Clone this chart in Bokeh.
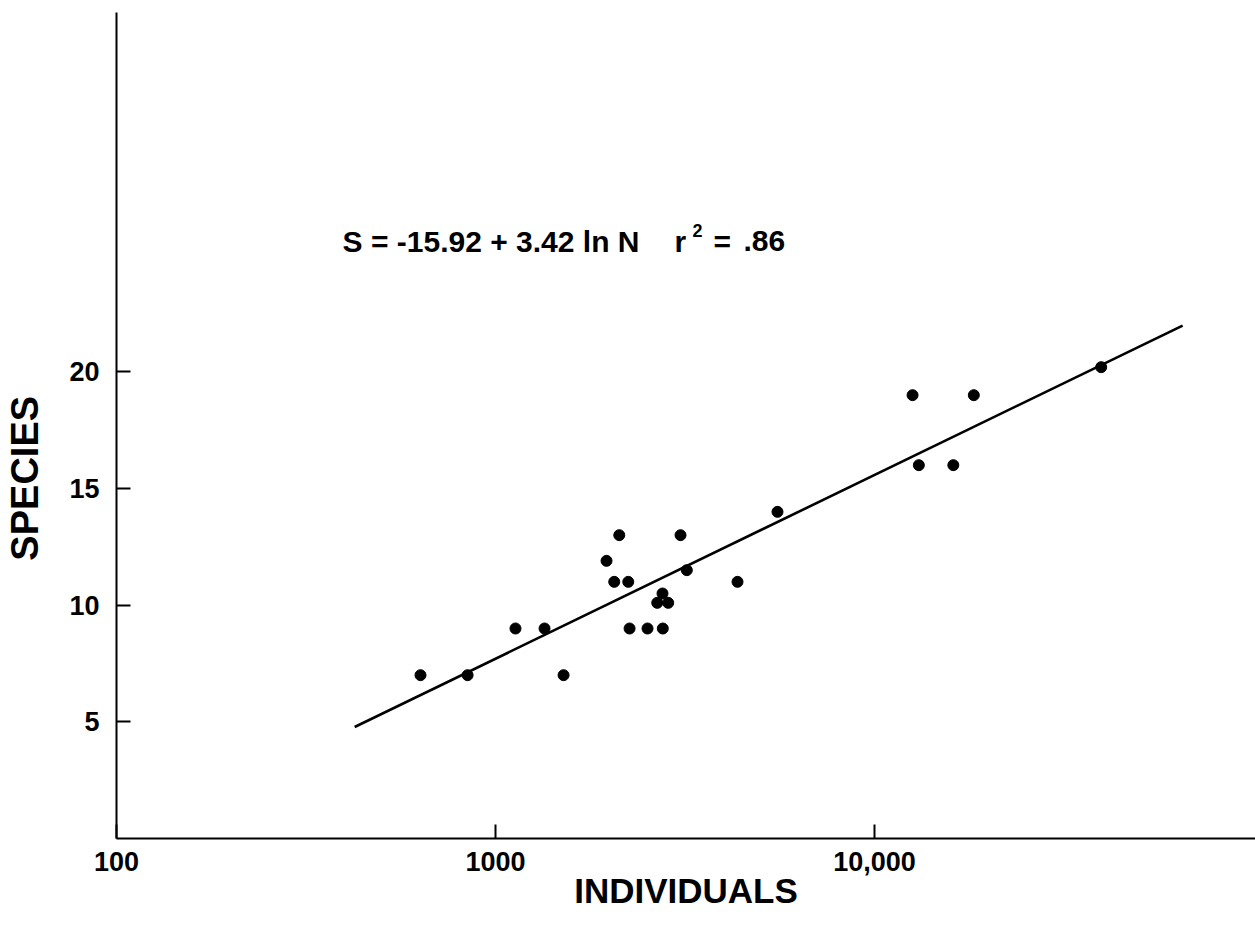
import math
from bokeh.plotting import figure
from bokeh.models import Range1d, FixedTicker, Label
from bokeh.embed import file_html
from bokeh.resources import INLINE

# ---- data ----
individuals = [634, 844, 1129, 1347, 1512, 1963, 2121, 2057, 2240, 2258, 2518, 2763,
               2671, 2855, 2758, 3077, 3197, 4350, 5546, 12600, 13090, 18280, 16140, 39630]
species = [7, 7, 9, 9, 7, 11.9, 13, 11, 11, 9, 9, 9,
           10.1, 10.1, 10.5, 13, 11.5, 11, 14, 19, 16, 19, 16, 20.2]

fit_intercept = -15.92
fit_slope = 3.42
fit_x = [425, 65000]
fit_y = [fit_intercept + fit_slope * math.log(v) for v in fit_x]

x_ticks = [100, 1000, 10000]
x_tick_labels = ["100", "1000", "10,000"]
y_ticks = [5, 10, 15, 20]

FONT = "Liberation Sans"

p = figure(width=1255, height=927, x_axis_type="log",
           x_range=Range1d(100, 101200), y_range=Range1d(0, 35.4),
           output_backend="svg", toolbar_location=None,
           min_border_left=116, min_border_right=0,
           min_border_top=12, min_border_bottom=89)
p.outline_line_color = None
p.grid.visible = False
p.background_fill_color = "white"

for ax in (p.xaxis[0], p.yaxis[0]):
    ax.axis_line_width = 2
    ax.axis_line_color = "black"
    ax.major_tick_line_width = 2
    ax.major_tick_line_color = "black"
    ax.minor_tick_line_color = None
    ax.major_tick_in = 14
    ax.major_tick_out = 0
    ax.major_label_text_font = FONT
    ax.major_label_text_font_style = "bold"
    ax.major_label_text_font_size = "27px"
    ax.major_label_text_color = "black"
    ax.axis_label_text_font = FONT
    ax.axis_label_text_font_style = "bold"
    ax.axis_label_text_color = "black"

p.xaxis.ticker = FixedTicker(ticks=x_ticks, minor_ticks=[])
p.xaxis.major_label_overrides = {t: l for t, l in zip(x_ticks, x_tick_labels)}
p.xaxis.major_label_standoff = 13
p.xaxis.axis_label = "INDIVIDUALS"
p.xaxis.axis_label_text_font_size = "35px"
p.xaxis.axis_label_standoff = -3

p.yaxis.ticker = FixedTicker(ticks=y_ticks, minor_ticks=[])
p.yaxis.major_label_standoff = 17
# trailing no-break spaces push the visible word below the frame centre, as in the original
p.yaxis.axis_label = "SPECIES" + "\u00a0" * 10
p.yaxis.axis_label_text_font_size = "38px"
p.yaxis.axis_label_standoff = 20

p.line(fit_x, fit_y, line_color="black", line_width=2.6)
p.scatter(individuals, species, size=11, color="black")

# equation
eq_kw = dict(text_font=FONT, text_font_style="bold", text_color="black",
             text_align="left", text_baseline="alphabetic")
p.add_layout(Label(x=395, y=25.59, text="S = -15.92 + 3.42  ln N", text_font_size="30px", **eq_kw))
p.add_layout(Label(x=2967, y=25.59, text="r", text_font_size="30px", **eq_kw))
p.add_layout(Label(x=3311, y=26.05, text="2", text_font_size="18px", **eq_kw))
p.add_layout(Label(x=3761, y=25.59, text="=", text_font_size="30px", **eq_kw))
p.add_layout(Label(x=4512, y=25.59, text=".86", text_font_size="30px", **eq_kw))

open("out.html", "w").write(file_html(p, INLINE))
